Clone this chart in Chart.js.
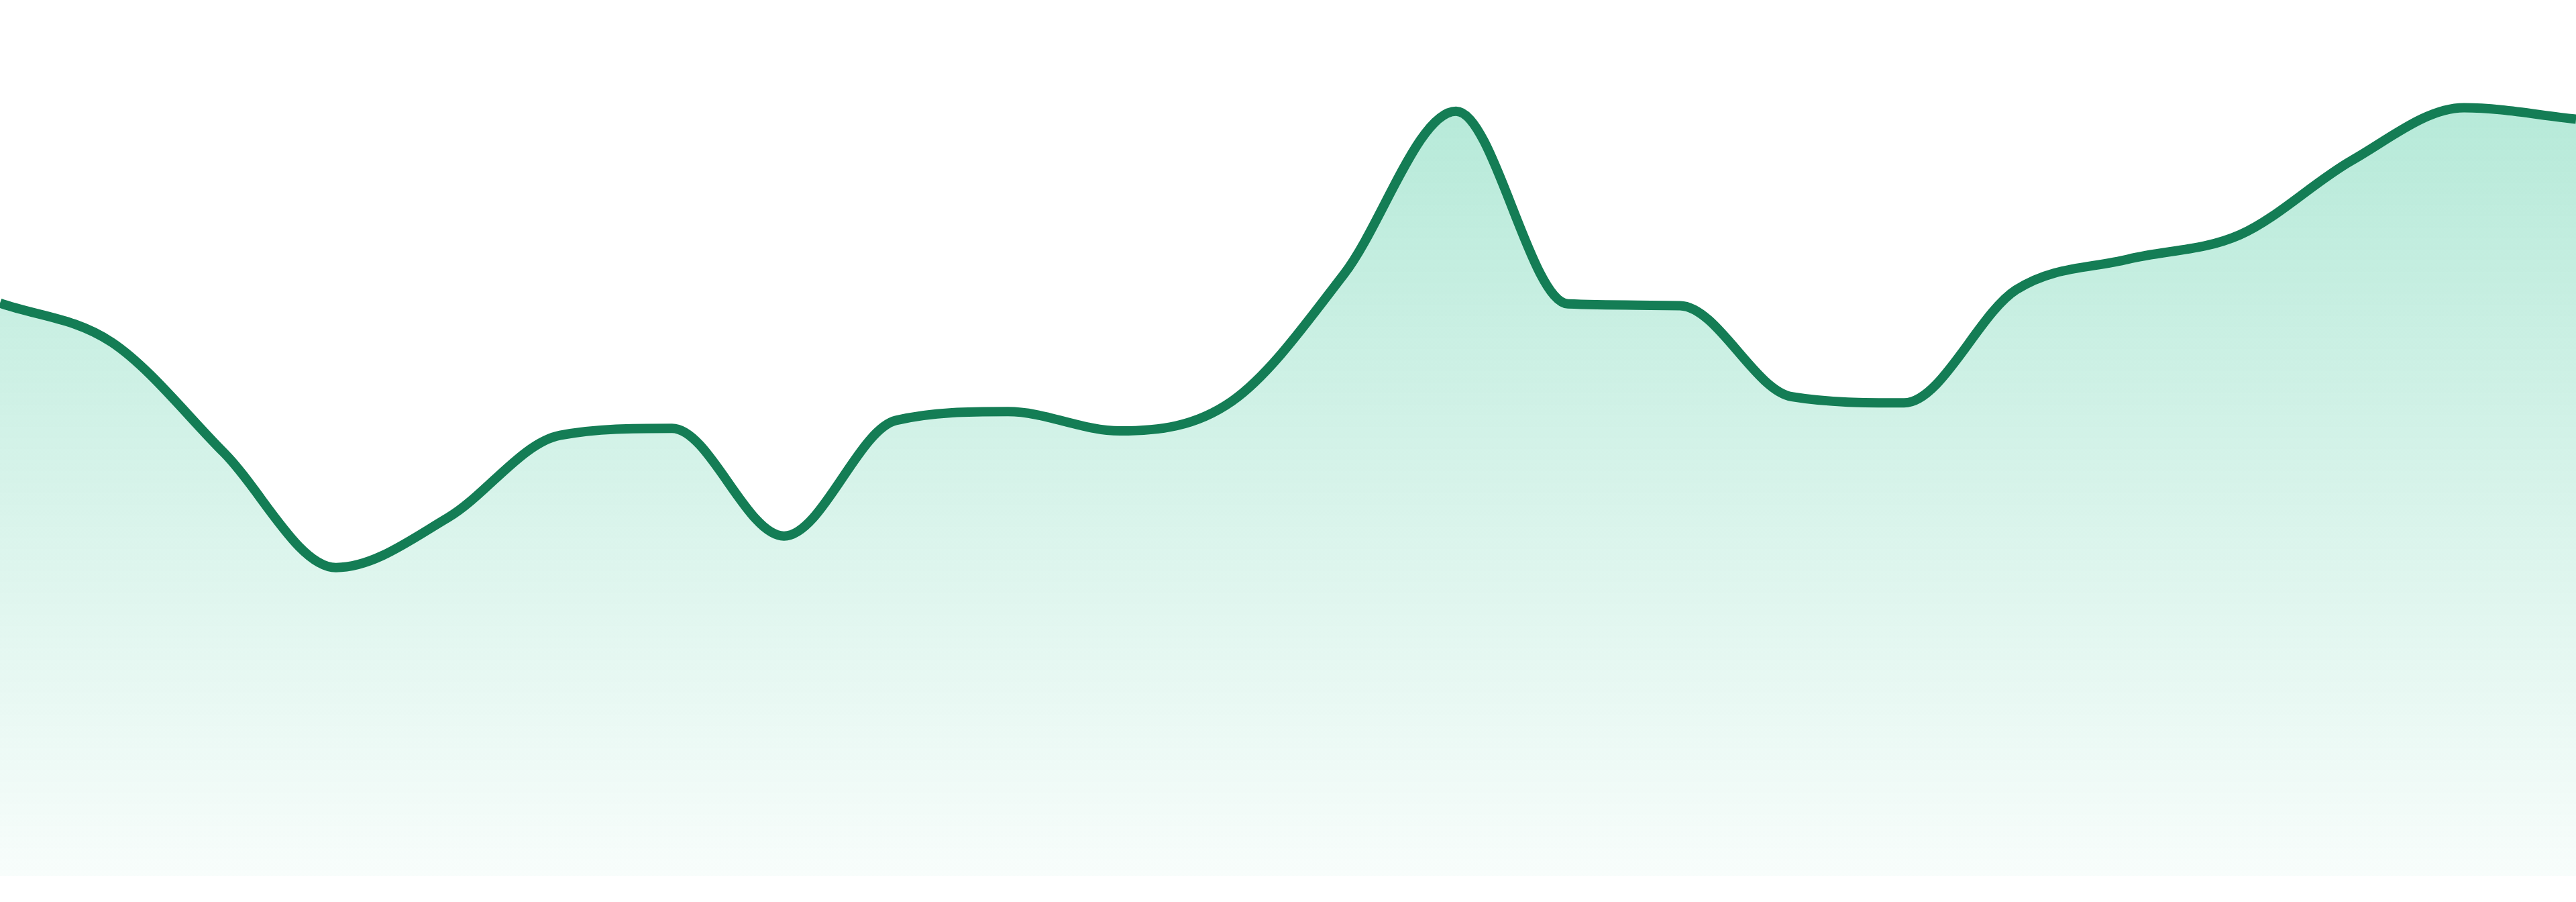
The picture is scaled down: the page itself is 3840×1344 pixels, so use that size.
<!DOCTYPE html>
<html>
<head>
<meta charset="utf-8">
<script src="https://cdn.jsdelivr.net/npm/chart.js@4.4.1/dist/chart.umd.min.js"></script>
<style>
    html, body { margin: 0; padding: 0; background: #ffffff; }
    #wrap { width: 3840px; height: 1344px; }
</style>
</head>
<body>
<div id="wrap"><canvas id="chart" width="3840" height="1344"></canvas></div>
<script>
// points along the x axis (no labels are shown in the picture)
const labels = ['1', '2', '3', '4', '5', '6', '7', '8', '9', '10', '11', '12',
    '13', '14', '15', '16', '17', '18', '19', '20', '21', '22', '23', '24'];

const values = [65.4, 60.9, 48.3, 35.2, 40.9, 50.3, 51.1, 38.8, 52.0, 53.0, 50.8, 54.2,
    68.7, 87.3, 65.3, 65.1, 54.7, 54.0, 66.9, 70.4, 73.2, 81.7, 87.7, 86.4];

const yMin = 0;
const yMax = 100;

const lineColor = '#147d55';

function fillGradient(context) {
    const chart = context.chart;
    const area = chart.chartArea;
    if (!area) return 'rgba(16, 185, 129, 0.2)';
    const g = chart.ctx.createLinearGradient(0, area.top, 0, area.bottom);
    g.addColorStop(0, 'rgba(16, 185, 129, 0.34)');
    g.addColorStop(1, 'rgba(16, 185, 129, 0.03)');
    return g;
}

const ctx = document.getElementById('chart').getContext('2d');

new Chart(ctx, {
    type: 'line',
    data: {
        labels: labels,
        datasets: [{
            data: values,
            borderColor: lineColor,
            borderWidth: 14,
            backgroundColor: fillGradient,
            fill: 'start',
            pointRadius: 0,
            pointHoverRadius: 0,
            cubicInterpolationMode: 'monotone'
        }]
    },
    options: {
        responsive: false,
        animation: false,
        devicePixelRatio: 1,
        layout: {
            padding: { top: 0, left: 0, right: 0, bottom: 39 }
        },
        plugins: {
            legend: { display: false },
            tooltip: { enabled: false }
        },
        scales: {
            x: {
                display: false,
                offset: false
            },
            y: {
                display: false,
                min: yMin,
                max: yMax
            }
        }
    }
});
</script>
</body>
</html>
